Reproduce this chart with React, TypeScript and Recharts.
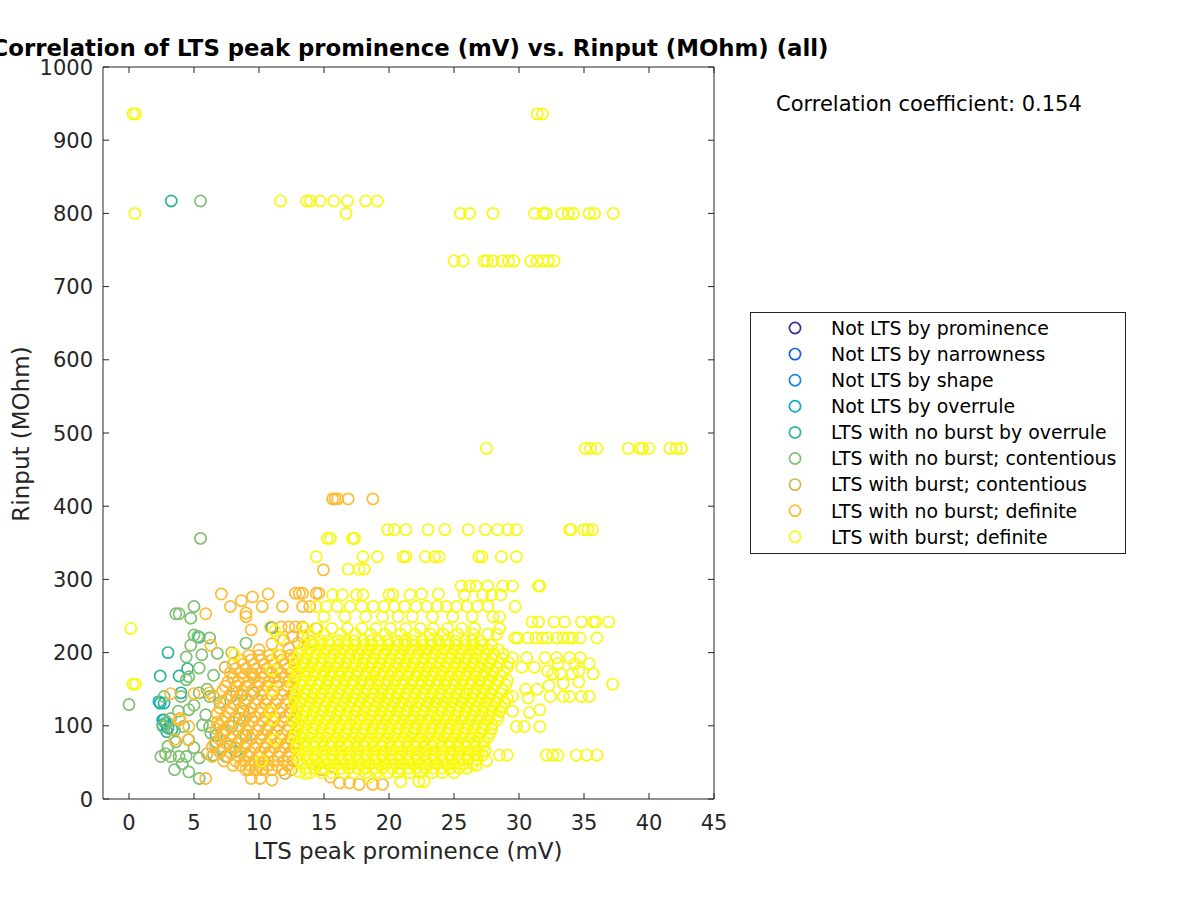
import React from 'react';
import { ScatterChart, Scatter, XAxis, YAxis } from 'recharts';

type Pt = [number, number];
type Row = [number, number[]];

const xTicks = [0, 5, 10, 15, 20, 25, 30, 35, 40, 45];
const yTicks = [0, 100, 200, 300, 400, 500, 600, 700, 800, 900, 1000];

const seriesNames = [
    'Not LTS by prominence',
    'Not LTS by narrowness',
    'Not LTS by shape',
    'Not LTS by overrule',
    'LTS with no burst by overrule',
    'LTS with no burst; contentious',
    'LTS with burst; contentious',
    'LTS with no burst; definite',
    'LTS with burst; definite',
];
const seriesColors = ['#3e2d8f', '#1460dc', '#1c86d8', '#0aa8cf', '#2ab59e', '#80c073', '#d3b44f', '#fcbc33', '#f8f90f'];

const correlationText = 'Correlation coefficient: 0.154';

// values (x = LTS peak prominence in mV, y = Rinput in MOhm)
const notLtsProminence: Pt[] = [];
const notLtsNarrowness: Pt[] = [];
const notLtsShape: Pt[] = [];
const notLtsOverrule: Pt[] = [[2.4, 131], [2.6, 108]];

const noBurstOverrule: Pt[] = [
    [3.25, 817], [3.0, 200], [2.4, 168], [3.85, 168], [4.5, 178], [5.4, 221], [2.3, 133], [2.7, 131],
    [2.7, 108], [2.8, 104], [2.6, 101], [3.0, 97], [6.7, 87], [11.0, 234], [4.0, 145], [3.3, 95], [2.9, 92],
];

const noBurstContentious: Pt[] = [
    [5.5, 817], [5.5, 356], [0.0, 129], [3.6, 253], [3.85, 253], [5.0, 263], [4.75, 247], [5.0, 224],
    [5.3, 222], [6.2, 220], [4.75, 210], [6.8, 199], [9.0, 213], [4.4, 194], [5.6, 197], [5.4, 179],
    [4.6, 167], [6.5, 169], [4.4, 163], [2.7, 140], [4.0, 140], [5.4, 145], [6.2, 140], [7.9, 140],
    [8.7, 142], [9.6, 145], [4.6, 122], [2.6, 99], [3.5, 94], [4.2, 99], [5.65, 101], [6.2, 99],
    [7.3, 94], [7.9, 99], [9.0, 87], [6.3, 90], [2.45, 58], [3.2, 58], [3.85, 58], [4.4, 58],
    [5.4, 56], [6.5, 60], [7.45, 58], [8.2, 65], [9.1, 60], [3.5, 40], [4.6, 37], [5.4, 28],
    [3.6, 78], [4.6, 81], [6.7, 78], [3.0, 72], [2.9, 105], [3.2, 110], [5.9, 115], [7.0, 132],
    [5.0, 128], [3.8, 120], [6.0, 150], [2.8, 62], [4.1, 48], [5.0, 70], [7.8, 72], [8.5, 110],
];

const burstContentious: Pt[] = [
    [7.9, 200], [8.3, 145], [9.5, 170], [6.0, 62], [10.6, 95], [8.8, 120], [12.0, 35], [7.4, 180],
];

const noBurstDefinite: Pt[] = [
    [15.66, 410], [15.85, 410], [16.05, 410], [16.86, 410], [18.76, 410], [14.95, 313],
    [7.1, 280], [10.7, 280], [12.8, 281], [13.1, 281], [13.35, 281], [14.4, 281], [14.6, 281],
    [7.8, 263], [8.65, 271], [9.5, 276], [10.25, 263], [11.8, 263], [13.35, 263], [13.9, 263],
    [5.9, 253], [9.0, 254], [9.0, 249], [9.4, 231], [10.9, 235], [11.7, 235], [12.3, 235],
    [12.8, 235], [13.35, 235], [14.4, 233], [6.3, 210], [11.0, 212], [11.9, 217], [12.6, 222],
    [13.35, 222], [12.3, 206], [13.0, 213], [14.0, 215], [10.0, 204], [3.2, 144], [5.0, 144],
    [6.2, 145], [6.5, 140], [3.85, 108], [4.6, 99], [6.7, 96], [6.8, 117], [7.1, 81], [3.5, 81],
    [4.55, 81], [6.4, 71], [6.4, 58], [5.9, 28], [6.8, 105], [7.2, 90], [3.9, 110],
    [9.25, 40], [9.8, 40], [10.25, 40], [9.4, 28], [10.1, 28], [11.0, 26],
    [16.2, 22], [16.95, 22], [17.7, 20], [18.75, 20], [19.5, 20], [15.5, 30], [14.8, 40],
];

// dense orange mass, one row per Rinput level
const noBurstDefiniteRows: Row[] = [
    [40, [9.0, 9.7, 10.3, 11.0, 11.8, 12.5]],
    [46, [8.0, 8.6, 9.3, 10.0, 10.7, 11.4, 12.2]],
    [52, [7.3, 8.2, 8.9, 9.6, 10.4, 11.1, 11.9, 12.6]],
    [58, [7.6, 8.5, 9.2, 10.0, 10.7, 11.5, 12.2]],
    [64, [7.0, 7.8, 8.6, 9.3, 10.1, 10.8, 11.6, 12.4]],
    [70, [7.3, 8.2, 8.9, 9.7, 10.4, 11.2, 12.0, 12.7]],
    [76, [6.6, 7.5, 8.3, 9.0, 9.8, 10.6, 11.4, 12.1, 12.8]],
    [82, [7.0, 7.8, 8.6, 9.4, 10.1, 10.9, 11.7, 12.4]],
    [88, [7.2, 8.0, 8.8, 9.5, 10.3, 11.0, 11.8, 12.6]],
    [94, [7.5, 8.4, 9.1, 9.9, 10.6, 11.4, 12.2]],
    [100, [6.9, 7.7, 8.5, 9.2, 10.0, 10.8, 11.5, 12.3]],
    [106, [7.2, 8.0, 8.8, 9.5, 10.3, 11.1, 11.8, 12.6]],
    [112, [7.4, 8.2, 9.0, 9.7, 10.5, 11.2, 12.0, 12.8]],
    [118, [7.7, 8.5, 9.3, 10.1, 10.8, 11.6, 12.4]],
    [124, [7.0, 7.8, 8.6, 9.4, 10.2, 10.9, 11.7, 12.5]],
    [130, [7.3, 8.1, 8.9, 9.7, 10.5, 11.3, 12.1]],
    [136, [7.5, 8.3, 9.1, 9.9, 10.6, 11.4, 12.2]],
    [142, [7.8, 8.6, 9.4, 10.2, 11.0, 11.8, 12.6]],
    [148, [7.2, 8.0, 8.7, 9.5, 10.3, 11.1, 11.9, 12.7]],
    [154, [7.4, 8.3, 9.0, 9.9, 10.6, 11.4, 12.2]],
    [160, [7.6, 8.4, 9.2, 10.0, 10.8, 11.5, 12.3]],
    [166, [8.0, 8.8, 9.6, 10.4, 11.2, 12.0, 12.8]],
    [172, [7.8, 8.6, 9.4, 10.2, 11.0, 11.7, 12.5]],
    [178, [8.2, 9.0, 9.8, 10.6, 11.4, 12.2]],
    [184, [8.0, 8.8, 9.6, 10.4, 11.2, 12.0, 12.8]],
    [190, [8.6, 9.4, 10.2, 11.0, 11.8, 12.6]],
    [196, [9.2, 10.0, 10.8, 11.6, 12.4]],
];

const burstDefinite: Pt[] = [
    [0.3, 936], [0.5, 936], [31.4, 936], [31.8, 936],
    [0.45, 800], [16.7, 800], [25.5, 800], [26.2, 800], [28.0, 800], [31.2, 800], [31.85, 800], [32.1, 800],
    [33.3, 800], [33.8, 800], [34.2, 800], [35.4, 800], [35.8, 800], [37.25, 800],
    [11.66, 817], [13.66, 817], [13.97, 817], [14.7, 817], [15.75, 817], [16.8, 817], [18.2, 817], [19.1, 817],
    [25.0, 735], [25.7, 735], [27.3, 735], [27.55, 735], [28.0, 735], [28.7, 735], [29.2, 735], [29.6, 735],
    [30.9, 735], [31.4, 735], [31.85, 735], [32.25, 735], [32.7, 735],
    [27.5, 479], [35.1, 479], [35.5, 479], [36.0, 479], [38.4, 479], [39.3, 479], [39.5, 479], [40.0, 479],
    [41.6, 479], [42.1, 479], [42.5, 479],
    [19.9, 368], [20.4, 368], [21.3, 368], [23.0, 368], [24.3, 368], [26.1, 368], [27.4, 368], [28.35, 368],
    [29.15, 368], [29.8, 368], [33.9, 368], [34.0, 368], [35.0, 368], [35.3, 368], [35.65, 368],
    [15.25, 356], [15.5, 356], [17.2, 356], [17.35, 356],
    [14.4, 331], [18.0, 331], [19.1, 331], [21.1, 331], [21.3, 331], [22.8, 331], [23.5, 331], [23.85, 331],
    [26.9, 331], [27.15, 331], [28.65, 331], [29.8, 331],
    [16.86, 314], [17.7, 314], [18.1, 314],
    [25.55, 291], [26.2, 291], [26.7, 291], [27.6, 291], [28.75, 291], [29.5, 291], [31.5, 291], [31.6, 291],
    [15.65, 279], [16.4, 279], [17.5, 279], [18.0, 279], [20.0, 279], [20.3, 279], [21.6, 279], [22.5, 280],
    [23.8, 280], [25.8, 279], [27.2, 279], [27.9, 279], [28.6, 279],
    [14.4, 263], [15.2, 263], [16.0, 263], [17.0, 263], [17.9, 263], [18.8, 263], [19.6, 263], [20.4, 263],
    [21.2, 263], [22.1, 263], [22.9, 263], [23.7, 263], [24.4, 263], [25.2, 263], [26.0, 263], [26.8, 263],
    [27.6, 263], [29.7, 263],
    [15.0, 249], [16.6, 249], [18.2, 249], [19.5, 249], [20.7, 249], [21.8, 249], [23.35, 249], [24.9, 249],
    [26.4, 249], [28.0, 249], [28.5, 249],
    [31.0, 242], [31.5, 242], [32.7, 242], [33.5, 242], [34.8, 242], [35.7, 242], [35.9, 242], [36.9, 242],
    [13.5, 233], [14.5, 233], [15.6, 233], [16.8, 233], [17.9, 233], [19.0, 233], [20.1, 233], [21.3, 233],
    [22.4, 233], [23.4, 233], [24.5, 233], [25.6, 233], [26.6, 233], [28.5, 233],
    [13.8, 225], [15.0, 225], [16.3, 225], [17.4, 225], [18.6, 225], [19.7, 225], [20.9, 225], [22.0, 225],
    [23.2, 225], [24.2, 225], [25.3, 225], [26.5, 225], [27.6, 225], [28.3, 225],
    [29.7, 220], [29.9, 220], [30.7, 220], [31.3, 220], [31.8, 220], [32.2, 220], [32.9, 220], [33.4, 220],
    [33.8, 220], [34.1, 220], [34.7, 220], [36.0, 220],
    [29.5, 193], [30.6, 193], [32.0, 193], [32.9, 193], [33.9, 193], [34.7, 193],
    [30.2, 180], [31.2, 180], [32.2, 175], [32.6, 171], [33.2, 171], [34.1, 171], [34.6, 175], [35.7, 171],
    [33.0, 185], [34.3, 185], [35.4, 185], [37.2, 157],
    [30.5, 150], [31.4, 150], [32.3, 155], [33.4, 158], [34.6, 160],
    [32.4, 140], [33.4, 140], [33.9, 140], [34.8, 140], [35.4, 140], [29.5, 140], [30.7, 138],
    [29.5, 120], [30.8, 118], [31.6, 122], [29.8, 99], [30.4, 99], [31.6, 99],
    [32.1, 60], [32.6, 60], [33.0, 60], [34.4, 60], [35.2, 60], [36.0, 60],
    [26.7, 46], [28.5, 60], [29.1, 60], [27.5, 52], [20.9, 24], [22.3, 24], [22.7, 24], [18.5, 30],
    [0.13, 233], [0.3, 157], [0.5, 157], [8.1, 197], [11.4, 197], [11.0, 176], [11.0, 149], [10.9, 119],
    [11.0, 108], [11.2, 81], [13.1, 37], [13.6, 35], [10.2, 52], [11.6, 220], [11.2, 230],
];

// dense yellow mass, one row per Rinput level
const burstDefiniteRows: Row[] = [
    [216, [14.0, 14.7, 15.3, 16.1, 16.6, 17.3, 18.0, 18.6, 19.2, 19.9, 20.6, 21.2, 21.8, 22.5, 23.2, 23.8, 24.4, 25.1, 25.8, 26.4, 27.0]],
    [210, [13.5, 14.2, 14.8, 15.5, 16.1, 16.8, 17.4, 18.1, 18.7, 19.4, 20.0, 20.7, 21.3, 22.0, 22.6, 23.3, 23.9, 24.6, 25.2, 25.9, 26.5, 27.2, 27.9]],
    [204, [13.3, 13.9, 14.6, 15.2, 15.9, 16.5, 17.2, 17.9, 18.5, 19.1, 19.8, 20.4, 21.1, 21.8, 22.4, 23.0, 23.7, 24.3, 25.0, 25.7, 26.3, 26.9, 27.6, 28.4]],
    [198, [13.1, 13.7, 14.4, 15.0, 15.7, 16.3, 17.0, 17.6, 18.3, 18.9, 19.6, 20.2, 20.9, 21.5, 22.2, 22.8, 23.5, 24.1, 24.8, 25.4, 26.1, 26.7, 27.4, 28.0, 28.8]],
    [192, [12.9, 13.6, 14.2, 14.9, 15.5, 16.2, 16.9, 17.5, 18.1, 18.8, 19.4, 20.1, 20.8, 21.4, 22.0, 22.7, 23.3, 24.0, 24.7, 25.3, 25.9, 26.6, 27.2, 27.9, 28.7]],
    [186, [12.8, 13.5, 14.1, 14.8, 15.4, 16.1, 16.7, 17.4, 18.0, 18.7, 19.3, 20.0, 20.6, 21.3, 21.9, 22.6, 23.2, 23.9, 24.5, 25.2, 25.8, 26.5, 27.1, 27.8, 28.5, 29.2]],
    [180, [12.7, 13.3, 14.0, 14.6, 15.3, 15.9, 16.6, 17.2, 17.9, 18.5, 19.2, 19.8, 20.5, 21.1, 21.8, 22.4, 23.1, 23.7, 24.4, 25.0, 25.7, 26.3, 27.0, 27.6, 28.3, 29.1]],
    [174, [13.0, 13.7, 14.3, 15.0, 15.6, 16.3, 16.9, 17.6, 18.3, 18.9, 19.6, 20.2, 20.9, 21.5, 22.2, 22.8, 23.5, 24.1, 24.8, 25.4, 26.1, 26.7, 27.4, 28.0, 28.8]],
    [168, [12.9, 13.6, 14.2, 14.9, 15.5, 16.2, 16.8, 17.5, 18.2, 18.8, 19.4, 20.1, 20.7, 21.4, 22.1, 22.7, 23.3, 24.0, 24.6, 25.3, 25.9, 26.6, 27.2, 27.9, 28.6]],
    [162, [12.7, 13.4, 14.0, 14.7, 15.3, 16.0, 16.6, 17.3, 17.9, 18.6, 19.2, 19.9, 20.5, 21.2, 21.8, 22.5, 23.1, 23.8, 24.4, 25.1, 25.7, 26.4, 27.0, 27.7, 28.4, 29.1]],
    [156, [12.6, 13.3, 13.9, 14.6, 15.2, 15.9, 16.5, 17.2, 17.8, 18.5, 19.1, 19.8, 20.4, 21.1, 21.7, 22.4, 23.0, 23.7, 24.3, 25.0, 25.6, 26.3, 26.9, 27.6, 28.2, 29.0]],
    [150, [13.0, 13.7, 14.3, 15.0, 15.6, 16.3, 16.9, 17.6, 18.2, 18.9, 19.5, 20.2, 20.8, 21.5, 22.1, 22.8, 23.4, 24.1, 24.7, 25.4, 26.0, 26.7, 27.3, 28.0, 28.7]],
    [144, [12.9, 13.5, 14.2, 14.8, 15.5, 16.1, 16.8, 17.4, 18.1, 18.8, 19.4, 20.0, 20.7, 21.3, 22.0, 22.6, 23.3, 23.9, 24.6, 25.2, 25.9, 26.5, 27.2, 27.8, 28.6]],
    [138, [12.8, 13.4, 14.1, 14.7, 15.4, 16.0, 16.7, 17.3, 18.0, 18.6, 19.3, 19.9, 20.6, 21.2, 21.9, 22.5, 23.2, 23.8, 24.5, 25.1, 25.8, 26.4, 27.1, 27.7, 28.4, 29.1]],
    [132, [12.7, 13.2, 13.9, 14.5, 15.2, 15.8, 16.5, 17.1, 17.8, 18.4, 19.1, 19.7, 20.4, 21.0, 21.7, 22.3, 23.0, 23.6, 24.3, 24.9, 25.6, 26.2, 26.9, 27.5, 28.2, 28.9]],
    [126, [13.0, 13.7, 14.3, 15.0, 15.6, 16.3, 16.9, 17.6, 18.2, 18.9, 19.5, 20.2, 20.8, 21.5, 22.1, 22.8, 23.4, 24.1, 24.7, 25.4, 26.0, 26.7, 27.3, 28.0, 28.6]],
    [120, [12.9, 13.6, 14.2, 14.9, 15.5, 16.2, 16.8, 17.5, 18.1, 18.8, 19.4, 20.1, 20.7, 21.4, 22.0, 22.7, 23.3, 24.0, 24.6, 25.3, 25.9, 26.6, 27.2, 27.9, 28.5]],
    [114, [12.8, 13.4, 14.1, 14.7, 15.4, 16.0, 16.7, 17.3, 18.0, 18.6, 19.3, 19.9, 20.6, 21.2, 21.9, 22.5, 23.2, 23.8, 24.5, 25.1, 25.8, 26.4, 27.1, 27.7, 28.4]],
    [108, [12.6, 13.3, 13.9, 14.6, 15.2, 15.9, 16.5, 17.2, 17.8, 18.5, 19.1, 19.8, 20.4, 21.1, 21.7, 22.4, 23.0, 23.7, 24.3, 25.0, 25.6, 26.3, 26.9, 27.6, 28.3]],
    [102, [13.0, 13.6, 14.3, 14.9, 15.6, 16.2, 16.9, 17.5, 18.2, 18.8, 19.5, 20.1, 20.8, 21.4, 22.1, 22.7, 23.4, 24.0, 24.7, 25.3, 26.0, 26.6, 27.3, 27.9]],
    [96, [12.9, 13.5, 14.2, 14.8, 15.5, 16.1, 16.8, 17.4, 18.1, 18.7, 19.4, 20.0, 20.7, 21.3, 22.0, 22.6, 23.3, 23.9, 24.6, 25.2, 25.9, 26.5, 27.2, 27.9]],
    [90, [12.8, 13.5, 14.1, 14.8, 15.4, 16.1, 16.7, 17.4, 18.0, 18.7, 19.3, 20.0, 20.6, 21.3, 21.9, 22.6, 23.2, 23.9, 24.5, 25.2, 25.8, 26.5, 27.1, 27.8]],
    [84, [12.7, 13.3, 13.9, 14.6, 15.2, 15.9, 16.5, 17.2, 17.8, 18.5, 19.1, 19.8, 20.4, 21.1, 21.7, 22.4, 23.0, 23.7, 24.3, 25.0, 25.6, 26.3, 26.9, 27.6]],
    [78, [13.0, 13.6, 14.3, 14.9, 15.6, 16.2, 16.9, 17.5, 18.2, 18.8, 19.5, 20.1, 20.8, 21.4, 22.1, 22.7, 23.4, 24.0, 24.7, 25.3, 26.0, 26.6, 27.3]],
    [72, [12.9, 13.6, 14.2, 14.9, 15.5, 16.2, 16.8, 17.5, 18.1, 18.8, 19.4, 20.1, 20.7, 21.4, 22.0, 22.7, 23.3, 24.0, 24.6, 25.3, 25.9, 26.6, 27.3]],
    [66, [13.2, 13.8, 14.5, 15.1, 15.8, 16.4, 17.1, 17.7, 18.4, 19.0, 19.7, 20.3, 21.0, 21.6, 22.3, 22.9, 23.6, 24.2, 24.9, 25.5, 26.2, 26.8, 27.4]],
    [60, [13.0, 13.6, 14.3, 14.9, 15.6, 16.2, 16.9, 17.5, 18.2, 18.8, 19.5, 20.1, 20.8, 21.4, 22.1, 22.7, 23.4, 24.0, 24.7, 25.3, 26.0, 26.6, 27.2]],
    [54, [13.1, 13.7, 14.4, 15.0, 15.7, 16.3, 17.0, 17.6, 18.3, 18.9, 19.6, 20.2, 20.9, 21.5, 22.2, 22.8, 23.5, 24.1, 24.8, 25.4, 26.1, 26.8]],
    [48, [13.3, 14.0, 14.6, 15.3, 15.9, 16.6, 17.2, 17.9, 18.5, 19.2, 19.8, 20.5, 21.1, 21.8, 22.4, 23.1, 23.7, 24.4, 25.0, 25.7, 26.4]],
    [42, [13.6, 14.3, 15.0, 15.6, 16.3, 16.9, 17.6, 18.2, 18.9, 19.5, 20.2, 20.8, 21.5, 22.1, 22.8, 23.4, 24.1, 24.7, 25.4, 26.0]],
    [36, [13.9, 14.8, 15.6, 16.5, 17.3, 18.2, 19.0, 19.9, 20.7, 21.6, 22.4, 23.3, 24.1, 25.0]],
];

const axisColor = '#262626';
const font = '"DejaVu Sans", sans-serif';

const toPoints = (pts: Pt[], rows: Row[] = []) => [
    ...pts.map(([x, y]) => ({ x, y })),
    ...rows.flatMap(([y, xs]) => xs.map(x => ({ x, y }))),
];

const seriesData = [
    toPoints(notLtsProminence),
    toPoints(notLtsNarrowness),
    toPoints(notLtsShape),
    toPoints(notLtsOverrule),
    toPoints(noBurstOverrule),
    toPoints(noBurstContentious),
    toPoints(burstContentious),
    toPoints(noBurstDefinite, noBurstDefiniteRows),
    toPoints(burstDefinite, burstDefiniteRows),
];

const ring = (color: string) => (props: any) => (
    <circle cx={props.cx} cy={props.cy} r={5.6} fill="none" stroke={color} strokeWidth={1.7} />
);

const BottomTick = ({ x, y, payload }: any) => (
    <g>
        <line x1={x} x2={x} y1={y} y2={y - 6} stroke={axisColor} />
        <text x={x} y={y + 31} textAnchor="middle" fontSize={21} fontFamily={font} fill={axisColor}>{payload.value}</text>
    </g>
);
const TopTick = ({ x, y }: any) => <line x1={x} x2={x} y1={y} y2={y + 6} stroke={axisColor} />;
const LeftTick = ({ x, y, payload }: any) => (
    <g>
        <line x1={x} x2={x + 6} y1={y} y2={y} stroke={axisColor} />
        <text x={x - 10} y={y} dy="0.36em" textAnchor="end" fontSize={21} fontFamily={font} fill={axisColor}>{payload.value}</text>
    </g>
);
const RightTick = ({ x, y }: any) => <line x1={x} x2={x - 6} y1={y} y2={y} stroke={axisColor} />;

export default function App() {
    return (
        <div style={{ position: 'absolute', left: 0, top: 0, width: 1200, height: 900, background: '#fff' }}>
            <ScatterChart width={1200} height={900} margin={{ top: 66, right: 485, bottom: 100, left: 102 }}>
                <XAxis type="number" dataKey="x" domain={[-2, 45]} ticks={xTicks} allowDataOverflow height={1}
                    tickSize={0} tickMargin={0} tickLine={false} tick={<BottomTick />} stroke={axisColor} />
                <XAxis xAxisId="top" orientation="top" type="number" dataKey="x" domain={[-2, 45]} ticks={xTicks}
                    allowDataOverflow height={1} tickSize={0} tickMargin={0} tickLine={false} tick={<TopTick />} stroke={axisColor} />
                <YAxis type="number" dataKey="y" domain={[0, 1000]} ticks={yTicks} allowDataOverflow width={1}
                    tickSize={0} tickMargin={0} tickLine={false} tick={<LeftTick />} stroke={axisColor} />
                <YAxis yAxisId="right" orientation="right" type="number" dataKey="y" domain={[0, 1000]} ticks={yTicks}
                    allowDataOverflow width={1} tickSize={0} tickMargin={0} tickLine={false} tick={<RightTick />} stroke={axisColor} />
                {seriesData.map((data, i) => (
                    <Scatter key={seriesNames[i]} name={seriesNames[i]} data={data} fill="none"
                        stroke={seriesColors[i]} shape={ring(seriesColors[i])} isAnimationActive={false} />
                ))}
            </ScatterChart>
            <svg width={1200} height={900} style={{ position: 'absolute', left: 0, top: 0, pointerEvents: 'none' }}
                fontFamily={font} fill="#000">
                <text x={410} y={56} textAnchor="middle" fontSize={22.8} fontWeight="bold">
                    Correlation of LTS peak prominence (mV) vs. Rinput (MOhm) (all)
                </text>
                <text x={408} y={859} textAnchor="middle" fontSize={23} fill={axisColor}>LTS peak prominence (mV)</text>
                <text x={0} y={0} transform="translate(28.5 434) rotate(-90)" textAnchor="middle" fontSize={23} fill={axisColor}>
                    Rinput (MOhm)
                </text>
                <text x={776} y={111} fontSize={21}>{correlationText}</text>
                <rect x={750.5} y={312.5} width={375} height={241} fill="#fff" stroke={axisColor} />
                {seriesNames.map((name, i) => (
                    <g key={name}>
                        <circle cx={795} cy={328 + i * 26.1} r={5.6} fill="none" stroke={seriesColors[i]} strokeWidth={1.7} />
                        <text x={831} y={328 + i * 26.1} dy="0.36em" fontSize={18.9}>{name}</text>
                    </g>
                ))}
            </svg>
        </div>
    );
}
